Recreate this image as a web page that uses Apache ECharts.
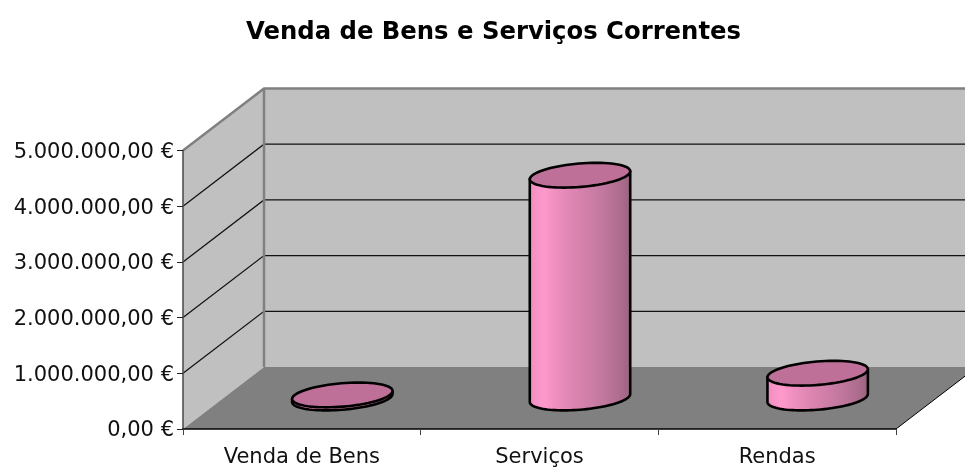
<!DOCTYPE html>
<html>
<head>
<meta charset="utf-8">
<style>html,body{margin:0;padding:0;background:#fff}#c{width:965px;height:471px}</style>
<script src="https://cdn.jsdelivr.net/npm/echarts@6/dist/echarts.min.js"></script>
</head>
<body>
<div id="c"></div>
<script>
const titleText = 'Venda de Bens e Serviços Correntes';
const categories = ['Venda de Bens', 'Serviços', 'Rendas'];
const values = [55000, 4000000, 445000];
const yMax = 5000000;
const yStep = 1000000;

// Oblique projection of the chart's depth axis, in pixels
const DEPTH_X = 81, DEPTH_Y = -62;
// Share of a category band occupied by each cylinder
const BAR_SHARE = 0.4;
const FONT = '"DejaVu Sans", sans-serif';

function euro(v) {
  const s = Math.round(v).toString().replace(/\B(?=(\d{3})+(?!\d))/g, '.');
  return s + ',00 €';
}

function renderWalls(params, api) {
  const cs = params.coordSys;
  const L = cs.x, R = cs.x + cs.width;
  const y0 = api.coord([0, 0])[1], yT = api.coord([0, yMax])[1];
  const d = (x, y) => [x + DEPTH_X, y + DEPTH_Y];
  const children = [];
  children.push({type: 'polygon', shape: {points: [[L, y0], d(L, y0), d(L, yT), [L, yT]]},
    style: {fill: '#C0C0C0'}});
  children.push({type: 'polygon', shape: {points: [d(L, y0), d(R, y0), d(R, yT), d(L, yT)]},
    style: {fill: '#C0C0C0'}});
  children.push({type: 'polygon', shape: {points: [[L, y0], [R, y0], d(R, y0), d(L, y0)]},
    style: {fill: '#808080'}});
  for (let v = yStep; v < yMax; v += yStep) {
    const y = api.coord([0, v])[1];
    children.push({type: 'polyline', shape: {points: [[L, y], d(L, y), d(R, y)]},
      style: {fill: null, stroke: '#111', lineWidth: 1.2}});
  }
  children.push({type: 'polyline', shape: {points: [[L, yT], d(L, yT), d(R, yT)]},
    style: {fill: null, stroke: '#808080', lineWidth: 2.5}});
  children.push({type: 'line', shape: {x1: d(L, 0)[0], y1: d(L, yT)[1], x2: d(L, 0)[0], y2: d(L, y0)[1]},
    style: {stroke: '#808080', lineWidth: 2.5}});
  children.push({type: 'line', shape: {x1: R, y1: y0, x2: d(R, y0)[0], y2: d(R, y0)[1]},
    style: {stroke: '#000', lineWidth: 1}});
  return {type: 'group', children};
}

function ellipsePts(cx, cy, ux, vx, vy, t0, t1, n) {
  const pts = [];
  for (let i = 0; i <= n; i++) {
    const t = t0 + (t1 - t0) * i / n;
    pts.push([cx + ux * Math.cos(t) + vx * Math.sin(t), cy + vy * Math.sin(t)]);
  }
  return pts;
}

function renderCylinder(params, api) {
  const idx = api.value(0), val = api.value(1);
  const base = api.coord([idx, 0]), top = api.coord([idx, val]);
  const band = api.size([1, 0])[0];
  const ux = band * BAR_SHARE / 2;
  const vx = BAR_SHARE * DEPTH_X / 2, vy = BAR_SHARE * DEPTH_Y / 2;
  const cx = base[0] + DEPTH_X / 2;
  const yb = base[1] + DEPTH_Y / 2, yt = top[1] + DEPTH_Y / 2;
  // angle of the rightmost point of the ellipse
  const ta = Math.atan2(vx, ux);
  const halfW = Math.hypot(ux, vx);
  const lowerBottom = ellipsePts(cx, yb, ux, vx, vy, ta, ta - Math.PI, 48);
  const right = [cx + ux * Math.cos(ta) + vx * Math.sin(ta), yt + vy * Math.sin(ta)];
  const left = [cx - (ux * Math.cos(ta) + vx * Math.sin(ta)), yt - vy * Math.sin(ta)];
  const body = [right].concat(lowerBottom, [left]);
  const stops = [[0,'#F08EC0'],[0.14,'#FF99CC'],[0.26,'#EE8FBF'],[0.45,'#DB84B0'],[0.65,'#C97CA5'],[0.82,'#B87296'],[0.93,'#A96A8A'],[1,'#986480']];
  return {
    type: 'group',
    children: [
      {type: 'polygon', shape: {points: body},
        style: {
          fill: {type: 'linear', x: cx - halfW, y: 0, x2: cx + halfW, y2: 0, global: true,
            colorStops: stops.map(s => ({offset: s[0], color: s[1]}))},
          stroke: '#000', lineWidth: 2.6, lineJoin: 'round'}},
      {type: 'polygon', shape: {points: ellipsePts(cx, yt, ux, vx, vy, 0, Math.PI * 2, 72)},
        style: {fill: '#BF7099', stroke: '#000', lineWidth: 2.6}}
    ]
  };
}

const chart = echarts.init(document.getElementById('c'), null, {renderer: 'canvas'});
chart.setOption({
  animation: false,
  backgroundColor: '#fff',
  title: {text: titleText, left: 241, top: 16,
    textStyle: {fontFamily: FONT, fontWeight: 'bold', fontSize: 24.3, color: '#000'}},
  grid: {left: 183, right: 69, top: 150.5, bottom: 42},
  xAxis: {type: 'category', data: categories, z: 3,
    axisLine: {lineStyle: {color: '#000', width: 1.6}},
    axisTick: {show: true, length: 6, lineStyle: {color: '#404040'}},
    axisLabel: {fontFamily: FONT, fontSize: 21, color: '#111', margin: 18}},
  yAxis: {type: 'value', min: 0, max: yMax, interval: yStep, z: 3,
    splitLine: {show: false},
    axisLine: {show: true, lineStyle: {color: '#505050', width: 1.6}},
    axisTick: {show: true, length: 6, lineStyle: {color: '#202020'}},
    axisLabel: {fontFamily: FONT, fontSize: 21, color: '#111', margin: 9, verticalAlign: 'top', lineHeight: 4, formatter: euro}},
  series: [
    {type: 'custom', z: 1, silent: true, renderItem: renderWalls, data: [[0, 0]],
     encode: {x: 0, y: 1}, clip: false},
    {type: 'custom', z: 5, name: 'Venda', renderItem: renderCylinder,
     data: values.map((v, i) => [i, v]), encode: {x: 0, y: 1}, clip: false}
  ]
});
</script>
</body>
</html>
